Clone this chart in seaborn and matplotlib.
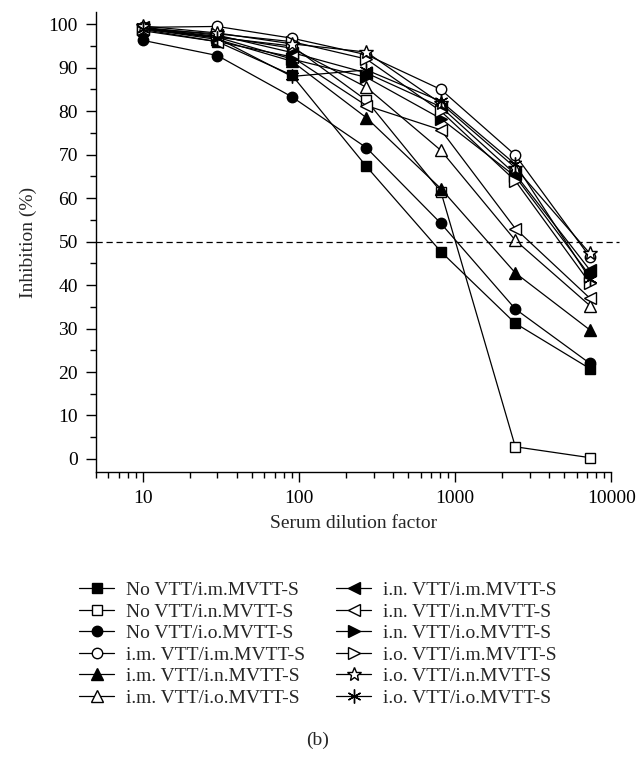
import matplotlib
matplotlib.use("Agg")
import matplotlib.pyplot as plt
import seaborn as sns
import numpy as np
from matplotlib.ticker import FuncFormatter, MultipleLocator, LogLocator, NullFormatter

sns.set_style("ticks")
plt.rcParams['font.family'] = ['Liberation Serif', 'DejaVu Serif']
plt.rcParams['mathtext.fontset'] = 'stix'

dilutions = [10, 30, 90, 270, 810, 2430, 7290]

labels = [
    "No VTT/i.m.MVTT-S", "No VTT/i.n.MVTT-S", "No VTT/i.o.MVTT-S",
    "i.m. VTT/i.m.MVTT-S", "i.m. VTT/i.n.MVTT-S", "i.m. VTT/i.o.MVTT-S",
    "i.n. VTT/i.m.MVTT-S", "i.n. VTT/i.n.MVTT-S", "i.n. VTT/i.o.MVTT-S",
    "i.o. VTT/i.m.MVTT-S", "i.o. VTT/i.n.MVTT-S", "i.o. VTT/i.o.MVTT-S",
]

novtt_im = [98.5, 96.0, 88.3, 67.3, 47.7, 31.2, 20.8]
novtt_in = [99.0, 97.0, 95.0, 82.5, 61.5, 2.8, 0.3]
novtt_io = [96.3, 92.8, 83.3, 71.6, 54.2, 34.5, 22.0]
im_im = [99.3, 99.5, 96.8, 93.0, 85.0, 69.9, 46.5]
im_in = [99.0, 96.5, 91.5, 78.5, 62.2, 42.8, 29.7]
im_io = [99.2, 97.2, 94.5, 85.5, 71.0, 50.3, 35.3]
in_im = [99.3, 97.5, 93.5, 88.8, 81.0, 65.5, 43.5]
in_in = [98.8, 96.0, 92.5, 81.3, 75.7, 53.0, 37.0]
in_io = [99.0, 97.0, 92.0, 87.8, 78.3, 65.0, 42.2]
io_im = [99.0, 97.8, 96.0, 92.0, 80.0, 64.0, 40.5]
io_in = [99.6, 98.0, 95.5, 93.6, 81.8, 67.0, 47.3]
io_io = [99.0, 96.8, 88.0, 89.5, 82.3, 67.8, 41.5]

series = [novtt_im, novtt_in, novtt_io, im_im, im_in, im_io,
          in_im, in_in, in_io, io_im, io_in, io_io]

markers = ['s', 's', 'o', 'o', '^', '^', '<', '<', '>', '>', '*', (6, 2, 0)]
filled = [True, False, True, False, True, False, True, False, True, False, False, True]
msizes = [7, 7, 7.5, 7.5, 8, 8, 8, 8, 8, 8, 10, 10]

fig = plt.figure(figsize=(6.36, 7.57), dpi=100)
ax = fig.add_axes([0.151, 0.3765, 0.81, 0.6075])

for vals, lab, m, f, ms in zip(series, labels, markers, filled, msizes):
    sns.lineplot(x=dilutions, y=vals, ax=ax, color='black', linewidth=0.9,
                 marker=m, markersize=ms, markeredgecolor='black',
                 markerfacecolor='black' if f else 'white', markeredgewidth=1.0,
                 label=lab, legend=False)

ax.plot([5, 11200], [50, 50], color='black', linestyle=(0, (5, 3)), linewidth=0.9, clip_on=False)

ax.set_xscale('log')
ax.set_xlim(5, 10000)
ax.set_ylim(-3, 102.8)
ax.yaxis.set_major_locator(MultipleLocator(10))
ax.yaxis.set_minor_locator(MultipleLocator(5))
ax.xaxis.set_major_locator(LogLocator(base=10))
ax.xaxis.set_minor_locator(LogLocator(base=10, subs=np.arange(2, 10)))
ax.xaxis.set_minor_formatter(NullFormatter())
ax.xaxis.set_major_formatter(FuncFormatter(lambda v, p: f"{int(round(v))}"))
ax.set_yticks([0, 10, 20, 30, 40, 50, 60, 70, 80, 90, 100])

for s in ['top', 'right']:
    ax.spines[s].set_visible(False)
for s in ['left', 'bottom']:
    ax.spines[s].set_linewidth(1.0)
    ax.spines[s].set_color('black')

ax.tick_params(axis='both', which='major', direction='out', length=7, width=1.0,
               labelsize=14, colors='black', pad=6)
ax.tick_params(axis='both', which='minor', direction='out', length=4, width=1.0, colors='black')

ax.set_xlabel("Serum dilution factor", fontsize=14, labelpad=6)
ax.set_ylabel("Inhibition (%)", fontsize=14, labelpad=8)

handles, labs = ax.get_legend_handles_labels()
fig.legend(handles, labs, ncol=2, loc='upper center', bbox_to_anchor=(0.5, 0.255),
           frameon=False, fontsize=14, handlelength=1.8, handletextpad=0.6,
           columnspacing=1.6, labelspacing=0.2)

fig.text(0.5, 1 - 740 / 757, "(b)", ha='center', va='center', fontsize=14)

fig.savefig("out.png", dpi=100)
